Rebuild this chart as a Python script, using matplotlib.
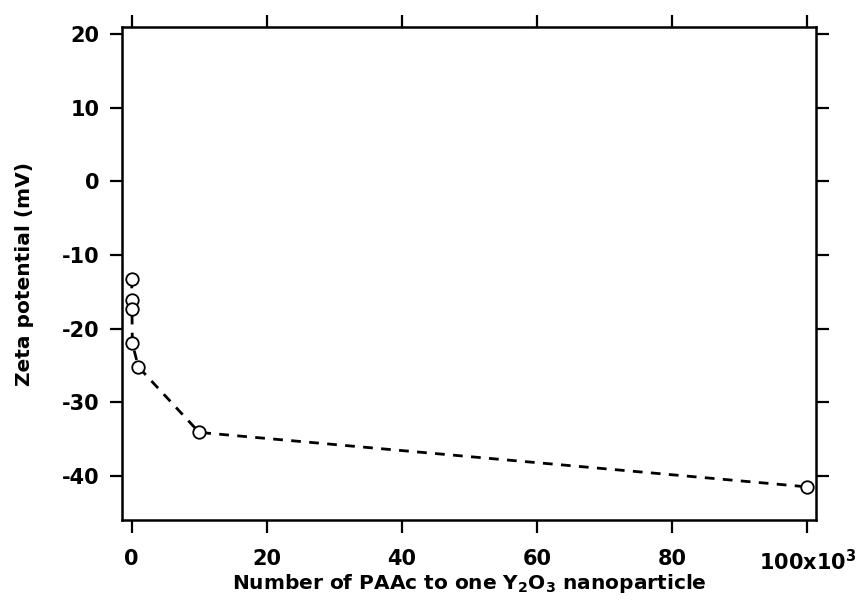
import numpy as np
import matplotlib.pyplot as plt

plt.rcParams['font.family'] = ['DejaVu Sans']
plt.rcParams['font.weight'] = 'bold'
plt.rcParams['mathtext.default'] = 'regular'
plt.rcParams['axes.unicode_minus'] = False

# number of PAAc per particle (x10^3) and zeta potential (mV)
n_paac = [0.01, 0.03, 0.05, 0.1, 1, 10, 100]
zeta = [-13.2, -16.1, -17.3, -22.0, -25.2, -34.1, -41.5]

xticks = [0, 20, 40, 60, 80, 100]
xticklabels = ['0', '20', '40', '60', '80', '100x10$^3$']
yticks = [-40, -30, -20, -10, 0, 10, 20]

fig = plt.figure(figsize=(8.59, 6.05), dpi=100)
ax = fig.add_axes([0.142, 0.1405, 0.808, 0.8145])

ax.plot(n_paac, zeta, color='black', linestyle=(0, (3.5, 3)), linewidth=2,
        marker='o', markersize=9, markerfacecolor='white',
        markeredgecolor='black', markeredgewidth=1.3)

ax.set_xlim(-1.43, 101.3)
ax.set_ylim(-46.0, 20.95)
ax.set_xticks(xticks)
ax.set_xticklabels(xticklabels)
ax.set_yticks(yticks)

ax.tick_params(direction='out', length=9, width=1.6, labelsize=15,
               top=True, right=True)
ax.tick_params(axis='x', pad=12)
ax.tick_params(axis='y', pad=7)
for s in ax.spines.values():
    s.set_linewidth(1.8)

ax.set_xlabel('Number of PAAc to one Y$_2$O$_3$ nanoparticle', fontsize=14.5,
              fontweight='bold', labelpad=-2)
ax.set_ylabel('Zeta potential (mV)', fontsize=14.5, fontweight='bold', labelpad=20)

fig.savefig('out.png', dpi=100)
